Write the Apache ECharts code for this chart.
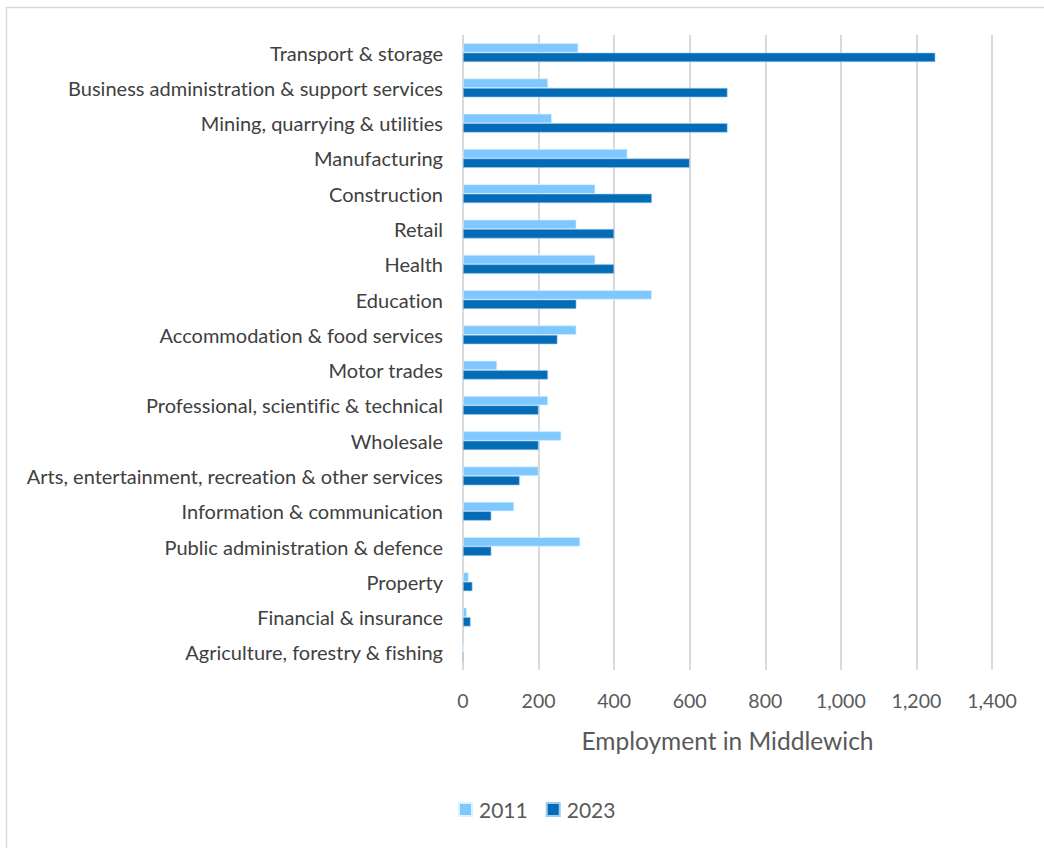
<!DOCTYPE html>
<html>
<head>
<meta charset="utf-8">
<style>
  html, body { margin: 0; padding: 0; background: #ffffff; }
  #chart { width: 1044px; height: 848px; font-variant-ligatures: none; }
  #chart text { font-variant-ligatures: none; }
</style>
<script src="https://cdn.jsdelivr.net/npm/echarts@6/dist/echarts.min.js"></script>
</head>
<body>
<div id="chart"></div>
<script>
// Sectors listed top to bottom
const sectors = [
  'Transport & storage',
  'Business administration & support services',
  'Mining, quarrying & utilities',
  'Manufacturing',
  'Construction',
  'Retail',
  'Health',
  'Education',
  'Accommodation & food services',
  'Motor trades',
  'Professional, scientific & technical',
  'Wholesale',
  'Arts, entertainment, recreation & other services',
  'Information & communication',
  'Public administration & defence',
  'Property',
  'Financial & insurance',
  'Agriculture, forestry & fishing'
];

const employment2011 = [305, 225, 235, 435, 350, 300, 350, 500, 300, 90, 225, 260, 200, 135, 310, 15, 10, 0];
const employment2023 = [1250, 700, 700, 600, 500, 400, 400, 300, 250, 225, 200, 200, 150, 75, 75, 25, 20, 0];

const seriesNames = ['2011', '2023'];
const axisTitle = 'Employment in Middlewich';

const FONT = 'Lato, "Liberation Sans", sans-serif';
const TEXT = '#595959';

const chart = echarts.init(document.getElementById('chart'), null, { renderer: 'svg' });

chart.setOption({
  backgroundColor: '#ffffff',
  animation: false,
  textStyle: { fontFamily: FONT },
  graphic: [{
    type: 'rect',
    left: 4, top: 5,
    shape: { width: 1080, height: 900 },
    style: { fill: 'none', stroke: '#d9d9d9', lineWidth: 1.5 },
    silent: true
  }],
  grid: { left: 463, right: 52, top: 35, bottom: 178, containLabel: false },
  legend: {
    data: seriesNames,
    left: 453, top: 794,
    itemWidth: 13, itemHeight: 13, itemGap: 18,
    icon: 'rect',
    textStyle: { fontFamily: FONT, fontSize: 21, color: TEXT, padding: [0, 0, 0, 2] }
  },
  xAxis: {
    type: 'value',
    min: 0, max: 1400, interval: 200,
    name: axisTitle,
    nameLocation: 'middle',
    nameGap: 58,
    nameTextStyle: { fontFamily: FONT, fontSize: 24.5, color: TEXT },
    axisLine: { show: false },
    axisTick: { show: false },
    axisLabel: {
      fontFamily: FONT, fontSize: 19.5, color: TEXT, margin: 20,
      formatter: v => v.toLocaleString('en-US')
    },
    splitLine: { show: true, lineStyle: { color: '#d9d9d9', width: 2 } }
  },
  yAxis: {
    type: 'category',
    data: sectors,
    inverse: true,
    axisLine: { show: false },
    axisTick: { show: false },
    axisLabel: {
      fontFamily: FONT, fontSize: 20, color: '#404040', margin: 20,
      padding: [0, 0, 2, 0]
    }
  },
  series: [
    {
      name: seriesNames[0], type: 'bar', data: employment2011,
      barWidth: 9.4, barGap: '0%',
      itemStyle: { color: '#7fc8ff', borderColor: '#dff1ff', borderWidth: 0.6 }
    },
    {
      name: seriesNames[1], type: 'bar', data: employment2023,
      barWidth: 9.4, barGap: '0%',
      itemStyle: { color: '#046cb7', borderColor: '#9fcbef', borderWidth: 0.6 }
    }
  ]
});
</script>
</body>
</html>
